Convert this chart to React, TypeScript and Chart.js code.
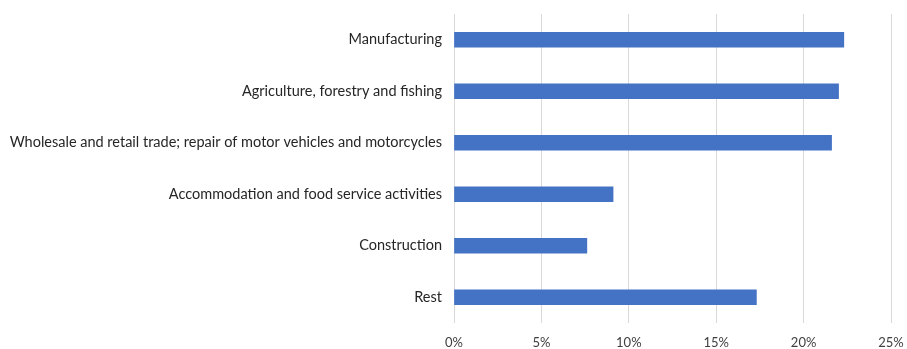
import React, { useEffect, useRef } from "react";
import { Chart, registerables } from "chart.js";

Chart.register(...registerables);

const categories = [
  "Manufacturing",
  "Agriculture, forestry and fishing",
  "Wholesale and retail trade; repair of motor vehicles and motorcycles",
  "Accommodation and food service activities",
  "Construction",
  "Rest",
];
const values = [22.3, 22.0, 21.6, 9.1, 7.6, 17.3];
const xTicks = [0, 5, 10, 15, 20, 25];

export default function App() {
  const ref = useRef<HTMLCanvasElement | null>(null);
  useEffect(() => {
    document.body.style.margin = "0";
    const ctx = ref.current!.getContext("2d")!;
    const xfont = { family: "Lato, 'Open Sans', sans-serif", size: 13 };
    const yfont = { family: "Lato, 'Open Sans', sans-serif", size: 14.5 };
    const chart = new Chart(ctx, {
      type: "bar",
      data: {
        labels: categories,
        datasets: [
          {
            data: values,
            backgroundColor: "#4472C4",
            borderWidth: 0,
            barThickness: 15,
          },
        ],
      },
      options: {
        indexAxis: "y",
        animation: false,
        responsive: false,
        maintainAspectRatio: false,
        layout: { padding: { top: 14, right: 16, left: 0, bottom: 0 } },
        plugins: { legend: { display: false }, tooltip: { enabled: false } },
        scales: {
          x: {
            min: 0,
            max: 25,
            afterBuildTicks: (s: any) => {
              s.ticks = xTicks.map((v) => ({ value: v }));
            },
            afterFit: (s: any) => {
              s.height = 26;
              s.paddingLeft = 0;
              s.paddingRight = 0;
            },
            grid: { color: "#d9d9d9", lineWidth: 1, drawTicks: false },
            border: { display: false },
            ticks: {
              padding: 12,
              color: "#404040",
              font: xfont,
              callback: (v: any) => v + "%",
            },
          },
          y: {
            afterFit: (s: any) => {
              s.width = 454;
              s.paddingTop = 0;
              s.paddingBottom = 0;
            },
            grid: { display: false, drawTicks: false },
            border: { display: false },
            ticks: { padding: 12, color: "#262626", font: yfont },
          },
        },
      },
    });
    return () => chart.destroy();
  }, []);
  return <canvas ref={ref} width={907} height={349} style={{ display: "block" }} />;
}
